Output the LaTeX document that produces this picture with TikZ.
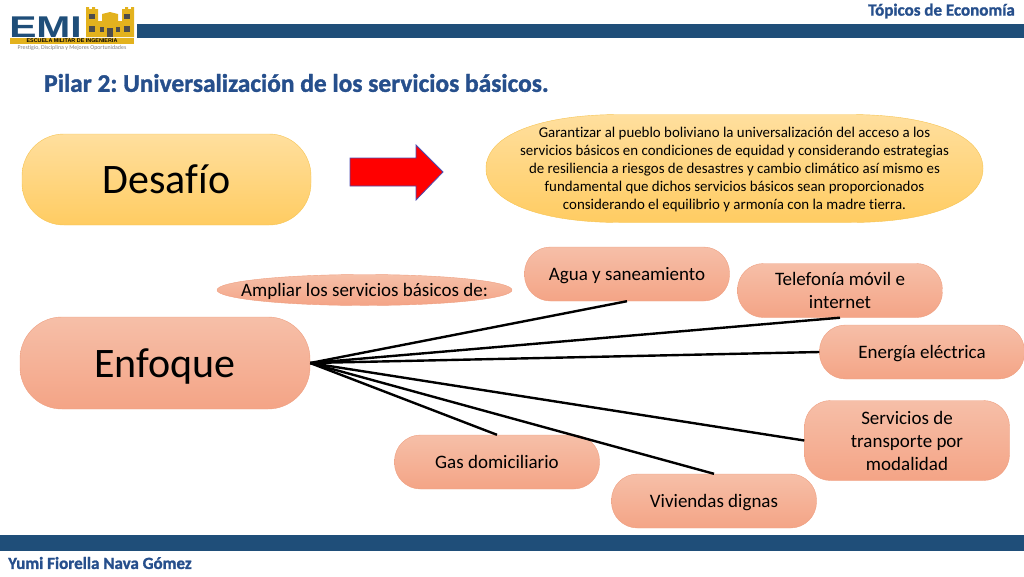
\documentclass[tikz,border=0pt]{standalone}
\usepackage{fontspec}
\setmainfont[Ligatures=NoCommon]{Carlito}
\newfontfamily\heavyfont[Ligatures=NoCommon,BoldFeatures={FakeBold=1.3}]{Carlito}
\newfontfamily\emifont{Liberation Sans}
\definecolor{barblue}{HTML}{1F4E79}
\definecolor{titleblue}{HTML}{264F8C}
\definecolor{emigold}{HTML}{E3B21E}
\definecolor{yellowtop}{HTML}{FFDF9E}
\definecolor{yellowbot}{HTML}{FFCC62}
\definecolor{yellowline}{HTML}{F6C453}
\definecolor{salmontop}{HTML}{F6BFA8}
\definecolor{salmonbot}{HTML}{F4A486}
\definecolor{salmonline}{HTML}{EE9F80}
\tikzset{
  yellowfill/.style={draw=yellowline,top color=yellowtop,bottom color=yellowbot},
  salmonfill/.style={draw=salmonline,top color=salmontop,bottom color=salmonbot},
  bigbox/.style={rounded corners=42pt,minimum width=289pt,minimum height=91pt,text height=32pt,text depth=4pt,font=\fontsize{42}{46}\selectfont},
  service/.style={salmonfill,rounded corners=26pt,minimum width=205pt,minimum height=54pt,align=center,inner sep=0pt,font=\fontsize{19}{23}\selectfont},
  oneline/.style={text height=15pt,text depth=3pt},
  spoke/.style={draw=black,line width=2.4pt},
  bartext/.style={text=titleblue,inner sep=0pt,font=\heavyfont\bfseries\fontsize{17}{20}\selectfont}
}
\begin{document}
\frenchspacing
\begin{tikzpicture}[x=1pt,y=-1pt]
\useasboundingbox (0,0) rectangle (1024,576);

% bars
\fill[barblue] (137,24) rectangle (1024,38);
\fill[barblue] (0,535) rectangle (1024,551);

% logo
\node[anchor=base west,inner sep=0pt,xscale=1.36,text=barblue,font=\emifont\bfseries\fontsize{30}{30}\selectfont] (emi) at (9,37) {EMI};
\fill[emigold] (86,37) -- (86,7) -- (89,7) -- (89,9) -- (92,9) -- (92,7) -- (95,7) -- (95,9) -- (98,9) -- (98,21) -- (102,21) -- (102,14) -- (110,12) -- (118,14) -- (118,21) -- (122,21) -- (122,9) -- (125,9) -- (125,7) -- (128,7) -- (128,9) -- (131,9) -- (131,7) -- (134,7) -- (134,37) -- cycle;
\foreach \wx in {89,124}{
  \fill[black!70] (\wx,14) rectangle +(6,5);
  \fill[black!70] (\wx,26) rectangle +(6,6);
}
\foreach \wx in {100,116}
  \fill[black!70] (\wx,27) rectangle +(4,5);
\fill[black!70] (107,28) rectangle (113,37);
\fill[emigold] (10,38) rectangle (134,44);
\node[inner sep=0pt,font=\emifont\bfseries\fontsize{5.4}{5.4}\selectfont] (school) at (72,41) {ESCUELA MILITAR DE INGENIERIA};
\node[inner sep=0pt,text=gray,font=\fontsize{5.9}{6}\selectfont] (motto) at (72,47.5) {Prestigio, Disciplina y Mejores Oportunidades};

% titles
\node[anchor=east,bartext] (course) at (1015,11) {Tópicos de Economía};
\node[anchor=west,inner sep=0pt,text=titleblue,font=\heavyfont\bfseries\fontsize{25.4}{28}\selectfont] (pillar) at (44,83) {Pilar 2: Universalización de los servicios básicos.};
\node[anchor=west,bartext] (presenter) at (8,563) {Yumi Fiorella Nava Gómez};

% top row
\node[yellowfill,bigbox] (desafio) at (166.5,179.5) {Desafío};
\draw[fill=red,draw=blue!40!gray,line width=0.8pt] (350,158) -- (416,158) -- (416,145) -- (443,172) -- (416,200) -- (416,186) -- (350,186) -- cycle;
\path[yellowfill] (486,168.5) .. controls (486,135) and (540,114.5) .. (620,114.5) -- (850,114.5) .. controls (930,114.5) and (983,135) .. (983,168.5) .. controls (983,202) and (930,222.5) .. (850,222.5) -- (620,222.5) .. controls (540,222.5) and (486,202) .. (486,168.5) -- cycle;
\node[align=center,inner sep=0pt,font=\fontsize{14.9}{18}\selectfont] (goal) at (734.5,170) {Garantizar al pueblo boliviano la universalización del acceso a los\\servicios básicos en condiciones de equidad y considerando estrategias\\de resiliencia a riesgos de desastres y cambio climático así mismo es\\fundamental que dichos servicios básicos sean proporcionados\\considerando el equilibrio y armonía con la madre tierra.};

% enfoque row
\node[salmonfill,bigbox,minimum width=290pt,minimum height=92pt] (enfoque) at (165,363) {Enfoque};
\path[salmonfill] (364.5,290) ellipse (147.5 and 15.5);
\node[inner sep=0pt,oneline,font=\fontsize{19}{23}\selectfont] (ampliar) at (364.5,290) {Ampliar los servicios básicos de:};
\node[service,oneline] (agua) at (627,274) {Agua y saneamiento};
\node[service] (telefonia) at (840,290.5) {Telefonía móvil e\\internet};
\node[service,oneline] (energia) at (922,352) {Energía eléctrica};
\node[service,minimum height=80pt] (transporte) at (907,440.5) {Servicios de\\transporte por\\modalidad};
\node[service,oneline] (viviendas) at (714,501) {Viviendas dignas};
\node[service,oneline] (gas) at (497,462) {Gas domiciliario};

\draw[spoke] (enfoque.east) -- (agua.south);
\draw[spoke] (enfoque.east) -- (telefonia.south);
\draw[spoke] (enfoque.east) -- (energia.west);
\draw[spoke] (enfoque.east) -- (transporte.west);
\draw[spoke] (enfoque.east) -- (viviendas.north);
\draw[spoke] (enfoque.east) -- (gas.north);

\end{tikzpicture}
\end{document}
